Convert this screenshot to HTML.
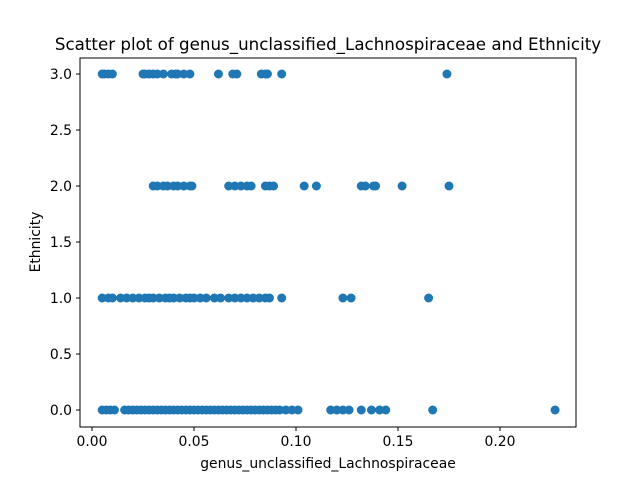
<!DOCTYPE html>
<html><head><meta charset="utf-8"><style>
body{margin:0;background:#fff;font-family:"Liberation Sans","DejaVu Sans",sans-serif}
</style></head><body>
<svg id="chart" width="640" height="480" xmlns="http://www.w3.org/2000/svg">
<rect width="640" height="480" fill="#fff"/>
<text x="328" y="50" font-size="16.7" text-anchor="middle" font-family="DejaVu Sans, sans-serif">Scatter plot of genus_unclassified_Lachnospiraceae and Ethnicity</text>
<g id="marks"></g>
<g id="axes"></g>
<rect x="80" y="58" width="496" height="369" fill="none" stroke="#000" stroke-width="1"/>
<text x="328" y="468" font-size="13.9" text-anchor="middle" font-family="DejaVu Sans, sans-serif">genus_unclassified_Lachnospiraceae</text>
<text transform="translate(40,242) rotate(-90)" font-size="13.9" text-anchor="middle" font-family="DejaVu Sans, sans-serif">Ethnicity</text>
</svg>
<script>
const xTicks=[0,0.05,0.10,0.15,0.20];
const xTickLabels=["0.00","0.05","0.10","0.15","0.20"];
const yTicks=[0,0.5,1,1.5,2,2.5,3];
const yTickLabels=["0.0","0.5","1.0","1.5","2.0","2.5","3.0"];
const row0=[0.005,0.007,0.009,0.011,0.016,0.018,0.020,0.022,0.024,0.026,0.028,0.030,0.032,0.034,0.036,0.038,0.040,0.042,0.044,0.046,0.048,0.050,0.052,0.054,0.056,0.058,0.060,0.062,0.064,0.066,0.068,0.070,0.072,0.074,0.076,0.078,0.080,0.082,0.084,0.086,0.088,0.090,0.092,0.095,0.098,0.101,0.117,0.120,0.123,0.126,0.132,0.137,0.141,0.144,0.167,0.227];
const row1=[0.005,0.008,0.010,0.014,0.017,0.020,0.023,0.026,0.028,0.030,0.033,0.036,0.038,0.040,0.043,0.046,0.048,0.050,0.053,0.056,0.060,0.063,0.067,0.070,0.073,0.076,0.079,0.082,0.085,0.087,0.093,0.123,0.127,0.165];
const row2=[0.030,0.032,0.035,0.037,0.040,0.042,0.045,0.048,0.049,0.067,0.070,0.073,0.076,0.078,0.085,0.087,0.089,0.104,0.110,0.132,0.134,0.138,0.139,0.152,0.175];
const row3=[0.005,0.006,0.008,0.010,0.025,0.026,0.028,0.030,0.032,0.035,0.039,0.041,0.042,0.045,0.048,0.062,0.069,0.071,0.083,0.085,0.086,0.093,0.174];
const xs=v=>92+v*2040, ys=v=>410-v*112;
const NS="http://www.w3.org/2000/svg";
const marks=document.getElementById('marks'), axes=document.getElementById('axes');
[[row0,0],[row1,1],[row2,2],[row3,3]].forEach(([arr,yv])=>arr.forEach(v=>{
 const c=document.createElementNS(NS,'circle');
 c.setAttribute('cx',xs(v));c.setAttribute('cy',ys(yv));c.setAttribute('r',4.5);c.setAttribute('fill','#1f77b4');
 
 
 marks.appendChild(c);}));
xTicks.forEach((t,i)=>{
 const l=document.createElementNS(NS,'line');
 l.setAttribute('x1',xs(t));l.setAttribute('x2',xs(t));l.setAttribute('y1',427);l.setAttribute('y2',431);l.setAttribute('stroke','#000');
 
 
 axes.appendChild(l);
 const tx=document.createElementNS(NS,'text');
 tx.setAttribute('x',xs(t));tx.setAttribute('y',446);tx.setAttribute('font-size','13.9');tx.setAttribute('text-anchor','middle');tx.setAttribute('font-family','DejaVu Sans, sans-serif');
 tx.textContent=xTickLabels[i];
 
 
 axes.appendChild(tx);});
yTicks.forEach((t,i)=>{
 const l=document.createElementNS(NS,'line');
 l.setAttribute('x1',76);l.setAttribute('x2',80);l.setAttribute('y1',ys(t));l.setAttribute('y2',ys(t));l.setAttribute('stroke','#000');
 
 
 axes.appendChild(l);
 const tx=document.createElementNS(NS,'text');
 tx.setAttribute('x',72);tx.setAttribute('y',ys(t)+5);tx.setAttribute('font-size','13.9');tx.setAttribute('text-anchor','end');tx.setAttribute('font-family','DejaVu Sans, sans-serif');
 tx.textContent=yTickLabels[i];
 
 
 axes.appendChild(tx);});
</script>
</body></html>
